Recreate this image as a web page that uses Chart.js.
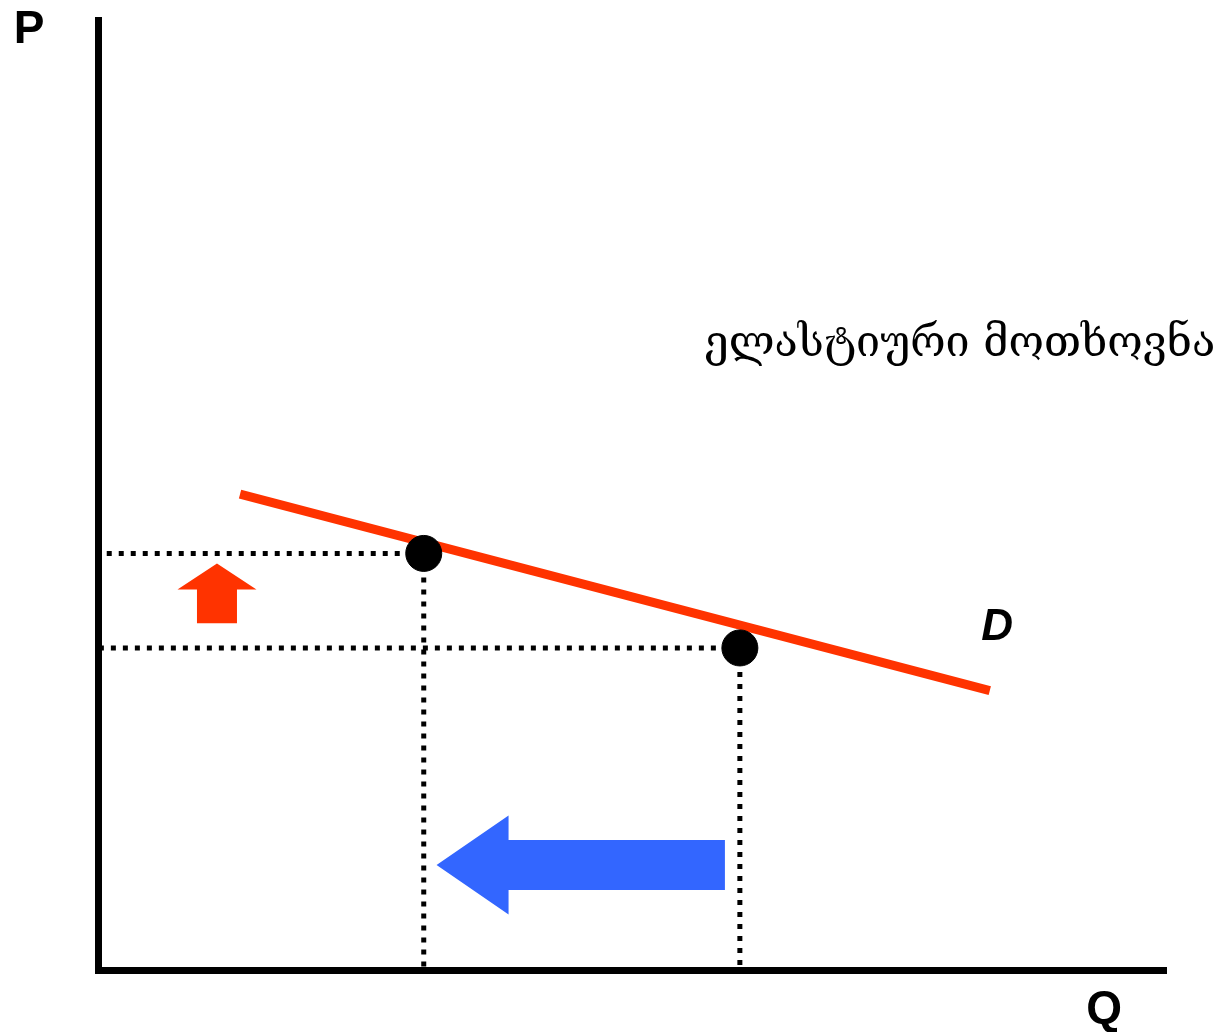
<!DOCTYPE html>
<html>
<head>
<meta charset="utf-8">
<script src="https://cdn.jsdelivr.net/npm/chart.js@4"></script>
<style>
  html, body { margin: 0; padding: 0; background: #fff; }
  #wrap { width: 1219px; height: 1032px; position: relative; }
</style>
</head>
<body>
<div id="wrap"><canvas id="chart"></canvas></div>
<script>
// demand curve end points (quantity, price)
var demandQ = [1.33, 8.35];
var demandP = [5.01, 2.94];

// the two points on the curve
var pointQ = [3.05, 6.01];
var pointP = [4.385, 3.39];

// arrows, tail -> head
var priceArrowQ = [1.114, 1.114];
var priceArrowP = [3.65, 4.28];
var qtyArrowQ = [5.87, 3.17];
var qtyArrowP = [1.105, 1.105];

// text labels
var labelText = ['P', 'Q', 'D', 'ელასტიური მოთხოვნა'];
var labelQ = [-0.646, 9.42, 8.42, 8.07];
var labelP = [9.895, -0.42, 3.6, 6.58];

var qMax = 10;
var pMax = 10;

function xy(qs, ps) {
    return qs.map(function(q, i) { return { x: q, y: ps[i] }; });
}

function drawArrow(ctx, x1, y1, x2, y2, shaftW, headW, headLen, color) {
    var len = Math.hypot(x2 - x1, y2 - y1);
    var ux = (x2 - x1) / len, uy = (y2 - y1) / len;
    var px = -uy, py = ux;
    var nx = x2 - ux * headLen, ny = y2 - uy * headLen;
    ctx.save();
    ctx.fillStyle = color;
    ctx.beginPath();
    ctx.moveTo(x1 + px * shaftW / 2, y1 + py * shaftW / 2);
    ctx.lineTo(nx + px * shaftW / 2, ny + py * shaftW / 2);
    ctx.lineTo(nx + px * headW / 2, ny + py * headW / 2);
    ctx.lineTo(x2, y2);
    ctx.lineTo(nx - px * headW / 2, ny - py * headW / 2);
    ctx.lineTo(nx - px * shaftW / 2, ny - py * shaftW / 2);
    ctx.lineTo(x1 - px * shaftW / 2, y1 - py * shaftW / 2);
    ctx.closePath();
    ctx.fill();
    ctx.restore();
}

var labelFonts = [
    'bold 46px "Liberation Sans", Arial, sans-serif',
    'bold 46px "Liberation Sans", Arial, sans-serif',
    'italic bold 44px "Liberation Sans", Arial, sans-serif',
    '43px "DejaVu Serif", "DejaVu Sans", serif'
];

var extras = {
    id: 'extras',
    afterDatasetsDraw: function(chart) {
        var ctx = chart.ctx;
        var sx = chart.scales.x, sy = chart.scales.y;
        drawArrow(ctx,
            sx.getPixelForValue(priceArrowQ[0]), sy.getPixelForValue(priceArrowP[0]),
            sx.getPixelForValue(priceArrowQ[1]), sy.getPixelForValue(priceArrowP[1]),
            40, 79, 26, '#ff3300');
        drawArrow(ctx,
            sx.getPixelForValue(qtyArrowQ[0]), sy.getPixelForValue(qtyArrowP[0]),
            sx.getPixelForValue(qtyArrowQ[1]), sy.getPixelForValue(qtyArrowP[1]),
            50, 99, 72, '#3366ff');

        ctx.save();
        ctx.fillStyle = '#000';
        ctx.textAlign = 'center';
        ctx.textBaseline = 'middle';
        labelText.forEach(function(t, i) {
            ctx.font = labelFonts[i];
            ctx.fillText(t, sx.getPixelForValue(labelQ[i]), sy.getPixelForValue(labelP[i]));
        });
        ctx.restore();
    }
};

var dotted = {
    borderColor: '#000',
    borderWidth: 5,
    borderDash: [5, 7],
    borderCapStyle: 'butt',
    pointRadius: 0,
    showLine: true,
    order: 2
};

var datasets = [{
    label: 'points',
    data: xy(pointQ, pointP),
    backgroundColor: '#000',
    borderColor: '#000',
    pointRadius: 18,
    pointHoverRadius: 18,
    showLine: false,
    order: 0
}, {
    label: 'D',
    data: xy(demandQ, demandP),
    borderColor: '#ff3300',
    borderWidth: 9,
    borderCapStyle: 'butt',
    pointRadius: 0,
    showLine: true,
    order: 1
}];

pointQ.forEach(function(q, i) {
    datasets.push(Object.assign({}, dotted, { data: [{ x: q, y: pointP[i] }, { x: 0, y: pointP[i] }] }));
    datasets.push(Object.assign({}, dotted, { data: [{ x: q, y: pointP[i] }, { x: q, y: 0 }] }));
});

var ctx = document.getElementById('chart').getContext('2d');
var myChart = new Chart(ctx, {
    type: 'scatter',
    data: { datasets: datasets },
    options: {
        responsive: true,
        maintainAspectRatio: false,
        animation: false,
        layout: { padding: { left: 98, right: 53, top: 20, bottom: 62 } },
        plugins: {
            legend: { display: false },
            tooltip: { enabled: false }
        },
        scales: {
            x: {
                type: 'linear',
                min: 0,
                max: qMax,
                ticks: { display: false },
                grid: { display: false, drawTicks: false },
                border: { display: true, width: 7, color: '#000' }
            },
            y: {
                type: 'linear',
                min: 0,
                max: pMax,
                ticks: { display: false },
                grid: { display: false, drawTicks: false },
                border: { display: true, width: 7, color: '#000' }
            }
        }
    },
    plugins: [extras]
});
</script>
</body>
</html>
